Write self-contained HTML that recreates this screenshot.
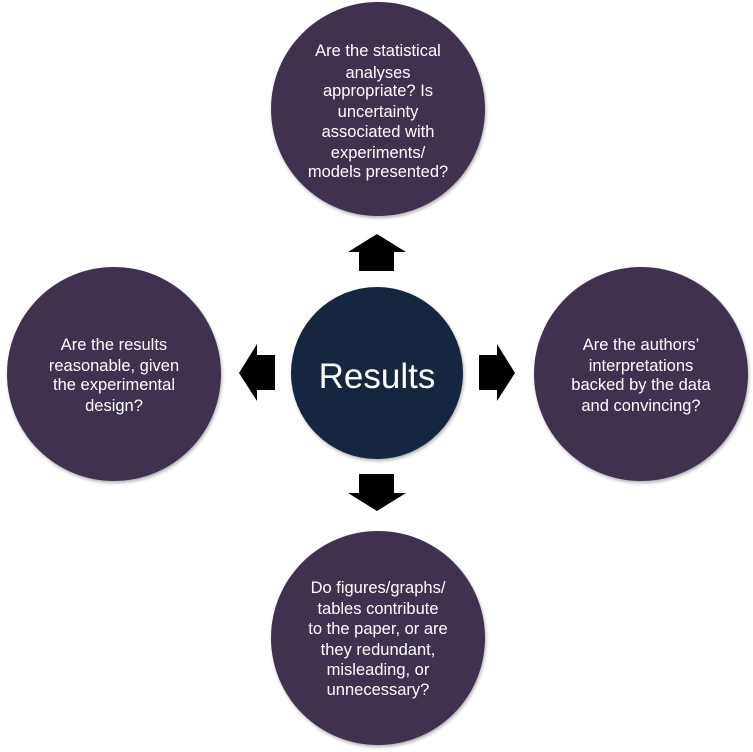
<!DOCTYPE html>
<html><head><meta charset="utf-8"><style>
html,body{margin:0;padding:0;background:#fff;}
svg{display:block;}
text{font-family:"Liberation Sans",sans-serif;fill:#fff;text-anchor:middle;}
.t{font-size:16.5px;}
</style></head><body>
<svg width="753" height="752" viewBox="0 0 753 752" xmlns="http://www.w3.org/2000/svg">
<defs><filter id="s" x="-10%" y="-10%" width="130%" height="130%"><feDropShadow dx="1" dy="2" stdDeviation="1.5" flood-color="#000" flood-opacity="0.3"/></filter></defs>
<g fill="#3f3050" filter="url(#s)">
<circle cx="378" cy="109" r="107"/>
<circle cx="114" cy="374" r="107"/>
<circle cx="641" cy="374" r="107"/>
<circle cx="378" cy="638" r="107"/>
</g>
<circle cx="377" cy="373" r="86" fill="#14263f" filter="url(#s)"/>
<g fill="#000">
<polygon points="377,234 406,252 394,252 394,271 359,271 359,252 348,252"/>
<polygon points="239,373 257,344 257,355 275,355 275,390 257,390 257,401"/>
<polygon points="515,373 497,344 497,355 479,355 479,390 497,390 497,401"/>
<polygon points="377,511 406,493 394,493 394,474 359,474 359,493 348,493"/>
</g>
<text x="377" y="388" font-size="35">Results</text>
<g class="t">
<text x="378" y="56">Are the statistical</text>
<text x="378" y="78">analyses</text>
<text x="378" y="96">appropriate? Is</text>
<text x="378" y="117">uncertainty</text>
<text x="378" y="137">associated with</text>
<text x="378" y="158">experiments/</text>
<text x="378" y="177">models presented?</text>
<text x="114" y="350">Are the results</text>
<text x="114" y="371">reasonable, given</text>
<text x="114" y="390">the experimental</text>
<text x="114" y="411">design?</text>
<text x="641" y="350">Are the authors’</text>
<text x="641" y="371">interpretations</text>
<text x="641" y="390">backed by the data</text>
<text x="641" y="411">and convincing?</text>
<text x="378" y="593">Do figures/graphs/</text>
<text x="378" y="614">tables contribute</text>
<text x="378" y="634">to the paper, or are</text>
<text x="378" y="655">they redundant,</text>
<text x="378" y="675">misleading, or</text>
<text x="378" y="695">unnecessary?</text>
</g>
</svg>
</body></html>
